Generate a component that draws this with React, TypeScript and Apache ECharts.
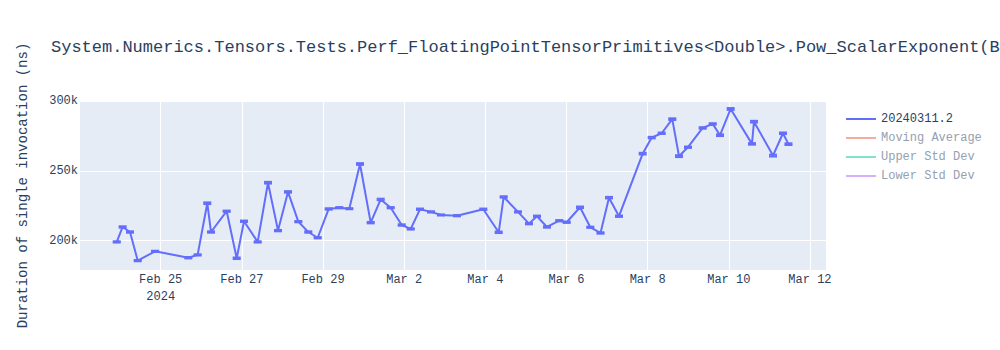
import React, { useEffect, useRef } from "react";
import * as echarts from "echarts";

const TITLE =
  "System.Numerics.Tensors.Tests.Perf_FloatingPointTensorPrimitives<Double>.Pow_ScalarExponent(BufferLength: 128)";
const Y_TITLE = "Duration of single invocation (ns)";
const SERIES_NAME = "20240311.2";
const LEGEND_NAMES = ["20240311.2", "Moving Average", "Upper Std Dev", "Lower Std Dev"];
const MONTHS = ["Jan", "Feb", "Mar", "Apr", "May", "Jun", "Jul", "Aug", "Sep", "Oct", "Nov", "Dec"];

const dates = [
  "2024-02-23 22:00", "2024-02-24 01:30", "2024-02-24 05:50", "2024-02-24 10:25", "2024-02-24 20:40",
  "2024-02-25 16:20", "2024-02-25 21:50", "2024-02-26 03:33", "2024-02-26 05:46", "2024-02-26 15:01",
  "2024-02-26 20:57", "2024-02-27 01:16", "2024-02-27 09:22", "2024-02-27 15:27", "2024-02-27 21:23",
  "2024-02-28 03:17", "2024-02-28 09:23", "2024-02-28 15:17", "2024-02-28 20:51", "2024-02-29 03:22",
  "2024-02-29 09:37", "2024-02-29 15:33", "2024-02-29 21:52", "2024-03-01 04:12", "2024-03-01 10:06",
  "2024-03-01 16:02", "2024-03-01 22:32", "2024-03-02 03:52", "2024-03-02 09:22", "2024-03-02 15:52",
  "2024-03-02 21:46", "2024-03-03 07:15", "2024-03-03 22:48", "2024-03-04 07:54", "2024-03-04 10:51",
  "2024-03-04 19:19", "2024-03-05 01:49", "2024-03-05 06:33", "2024-03-05 12:27", "2024-03-05 19:44",
  "2024-03-06 00:07", "2024-03-06 08:00", "2024-03-06 14:05", "2024-03-06 20:07", "2024-03-07 01:08",
  "2024-03-07 07:03", "2024-03-07 21:04", "2024-03-08 02:24", "2024-03-08 08:18", "2024-03-08 14:34",
  "2024-03-08 18:32", "2024-03-08 23:51", "2024-03-09 08:33", "2024-03-09 14:28", "2024-03-09 18:48",
  "2024-03-10 01:06", "2024-03-10 13:42", "2024-03-10 14:53", "2024-03-11 02:08", "2024-03-11 08:02",
  "2024-03-11 11:17",
];

const durations = [
  199100, 209800, 206200, 185700, 192400,
  187800, 189800, 226800, 206200, 221100,
  187400, 213900, 199100, 241500, 207200,
  234900, 213600, 206200, 202100, 222700,
  223600, 222900, 254900, 212900, 229500,
  223600, 211200, 208400, 222500, 220600,
  218400, 217900, 222500, 206000, 231300,
  220600, 212200, 217500, 209800, 214300,
  213200, 223900, 209600, 205500, 230800,
  217500, 262300, 273800, 276900, 287000,
  260500, 266900, 280700, 283600, 275500,
  294300, 269300, 285200, 260900, 276900,
  269100,
];

const errors = [
  450, 500, 500, 450, 400,
  500, 450, 600, 500, 450,
  550, 500, 450, 600, 500,
  550, 450, 500, 450, 500,
  450, 400, 600, 500, 550,
  450, 500, 450, 500, 450,
  400, 450, 500, 550, 500,
  450, 500, 450, 500, 450,
  500, 550, 450, 500, 550,
  500, 600, 550, 500, 600,
  650, 500, 550, 500, 600,
  650, 550, 600, 650, 550,
  600,
];

const X_MIN = "2024-02-23 00:16";
const X_MAX = "2024-03-12 09:29";
const Y_MIN = 179000;
const Y_MAX = 300000;
const YEAR_TICK = "2024-02-25 00:00";
const YEAR_TEXT = "2024";

const toTs = (s: string) => Date.parse(s.replace(" ", "T") + ":00Z");
const DAY = 86400000;

const FONT = "'Courier New', 'Liberation Mono', monospace";
const TEXT_COLOR = "#2a3f5f";
const FADED_TEXT = "#95a0b0";
const LINE_COLOR = "#636efa";

export default function App() {
  const ref = useRef<HTMLDivElement>(null);

  useEffect(() => {
    if (!ref.current) return;
    const chart = echarts.init(ref.current, undefined, { renderer: "svg" });
    const ts = dates.map(toTs);
    const yearTick = toTs(YEAR_TICK);

    const option: any = {
      animation: false,
      backgroundColor: "#ffffff",
      textStyle: { fontFamily: FONT },
      title: {
        text: TITLE,
        left: 46,
        top: 34,
        textStyle: { fontFamily: FONT, fontSize: 17, fontWeight: "normal", color: TEXT_COLOR },
      },
      legend: {
        orient: "vertical",
        left: 841,
        top: 106.5,
        itemGap: 4,
        itemWidth: 30,
        itemHeight: 2,
        icon: "rect",
        textStyle: { fontFamily: FONT, fontSize: 12, lineHeight: 15, color: TEXT_COLOR },
        data: LEGEND_NAMES.map((n, i) => ({
          name: n,
          textStyle: { color: i === 0 ? TEXT_COLOR : FADED_TEXT },
        })),
        selectedMode: false,
      },
      grid: {
        left: 80,
        right: 174,
        top: 101,
        bottom: 80,
        show: true,
        backgroundColor: "#e5ecf6",
        borderWidth: 0,
        containLabel: false,
      },
      xAxis: {
        type: "value",
        min: toTs(X_MIN),
        max: toTs(X_MAX),
        minInterval: 2 * DAY,
        maxInterval: 2 * DAY,
        axisLine: { show: false },
        axisTick: { show: false },
        splitLine: {
          show: true,
          showMinLine: false,
          showMaxLine: false,
          lineStyle: { color: "#ffffff", width: 1 },
        },
        axisLabel: {
          showMinLabel: false,
          showMaxLabel: false,
          margin: 1,
          fontFamily: FONT,
          fontSize: 12,
          lineHeight: 17,
          color: TEXT_COLOR,
          formatter: (v: number) => {
            if (Math.abs((v - yearTick) % (2 * DAY)) > 1000) return "";
            const d = new Date(v);
            const s = MONTHS[d.getUTCMonth()] + " " + d.getUTCDate();
            return v === yearTick ? s + "\n" + YEAR_TEXT : s;
          },
        },
      },
      yAxis: {
        type: "value",
        min: Y_MIN,
        max: Y_MAX,
        minInterval: 50000,
        maxInterval: 50000,
        splitNumber: 3,
        name: Y_TITLE,
        nameLocation: "middle",
        nameRotate: 90,
        nameGap: 50,
        nameTextStyle: { fontFamily: FONT, fontSize: 14, color: TEXT_COLOR },
        axisLine: { show: false },
        axisTick: { show: false },
        splitLine: {
          show: true,
          showMinLine: false,
          lineStyle: { color: "#ffffff", width: 1 },
        },
        axisLabel: {
          showMinLabel: false,
          margin: 2,
          fontFamily: FONT,
          fontSize: 12,
          color: TEXT_COLOR,
          formatter: (v: number) => (v % 50000 === 0 ? v / 1000 + "k" : ""),
        },
      },
      series: [
        {
          name: SERIES_NAME,
          type: "line",
          color: LINE_COLOR,
          data: ts.map((t, i) => [t, durations[i]]),
          showSymbol: false,
          symbol: "none",
          lineStyle: { color: LINE_COLOR, width: 2 },
          z: 3,
        },
        {
          name: SERIES_NAME + " error",
          type: "custom",
          data: ts.map((t, i) => [t, durations[i] - errors[i], durations[i] + errors[i]]),
          encode: { x: 0, y: [1, 2] },
          z: 4,
          renderItem: (_params: any, api: any) => {
            const x = api.value(0);
            const pLo = api.coord([x, api.value(1)]);
            const pHi = api.coord([x, api.value(2)]);
            const w = 4;
            const style = { stroke: LINE_COLOR, lineWidth: 2, fill: "none" };
            return {
              type: "group",
              children: [
                { type: "line", shape: { x1: pLo[0], y1: pLo[1], x2: pHi[0], y2: pHi[1] }, style },
                { type: "line", shape: { x1: pLo[0] - w, y1: pLo[1], x2: pLo[0] + w, y2: pLo[1] }, style },
                { type: "line", shape: { x1: pHi[0] - w, y1: pHi[1], x2: pHi[0] + w, y2: pHi[1] }, style },
              ],
            };
          },
        },
        { name: "Moving Average", type: "line", color: "#f7aa9d", data: [], symbol: "none" },
        { name: "Upper Std Dev", type: "line", color: "#7fe5ca", data: [], symbol: "none" },
        { name: "Lower Std Dev", type: "line", color: "#d5b1fc", data: [], symbol: "none" },
      ],
    };

    chart.setOption(option);
    return () => chart.dispose();
  }, []);

  return <div ref={ref} style={{ width: 1000, height: 350, position: "absolute", left: 0, top: 0 }} />;
}
